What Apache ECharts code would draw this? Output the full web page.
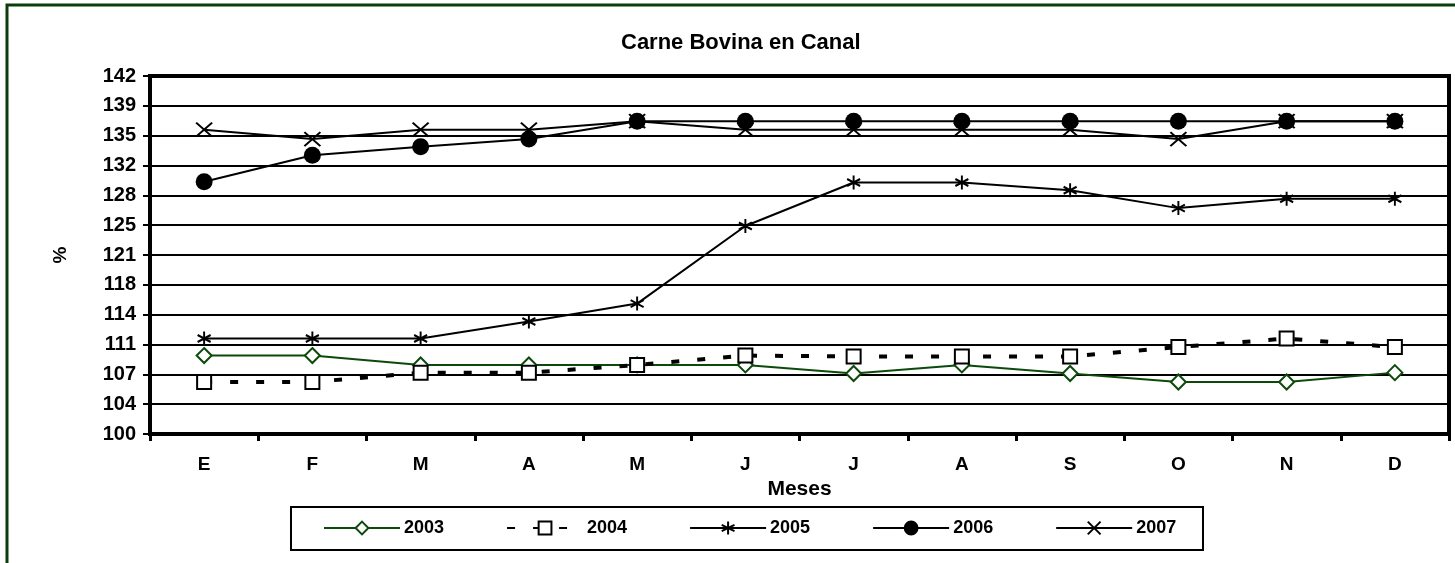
<!DOCTYPE html>
<html>
<head>
<meta charset="utf-8">
<script src="https://cdn.jsdelivr.net/npm/echarts@6/dist/echarts.min.js"></script>
<style>
  html, body { margin: 0; padding: 0; background: #ffffff; }
  #chart { width: 1455px; height: 563px; }
</style>
</head>
<body>
<div id="chart"></div>
<script>
// ---- data ----
const months = ['E', 'F', 'M', 'A', 'M', 'J', 'J', 'A', 'S', 'O', 'N', 'D'];
const seriesNames = ['2003', '2004', '2005', '2006', '2007'];
const v2003 = [109.2, 109.2, 108.1, 108.1, 108.1, 108.1, 107.1, 108.1, 107.1, 106.1, 106.1, 107.2];
const v2004 = [106.1, 106.1, 107.2, 107.2, 108.1, 109.2, 109.1, 109.1, 109.1, 110.2, 111.2, 110.2];
const v2005 = [111.2, 111.2, 111.2, 113.2, 115.3, 124.4, 129.5, 129.5, 128.6, 126.5, 127.6, 127.6];
const v2006 = [129.6, 132.7, 133.7, 134.6, 136.7, 136.7, 136.7, 136.7, 136.7, 136.7, 136.7, 136.7];
const v2007 = [135.7, 134.6, 135.7, 135.7, 136.7, 135.7, 135.7, 135.7, 135.7, 134.6, 136.7, 136.7];
const yMin = 100, yMax = 142, yStep = 3.5;
const titleText = 'Carne Bovina en Canal';
const xName = 'Meses';
const yName = '%';

// ---- styling ----
const FONT = '"Liberation Sans", Arial, sans-serif';
const GREEN = '#0b4a0b';
const asterisk = 'path://M0,-1L0,1M-0.87,-0.5L0.87,0.5M-0.87,0.5L0.87,-0.5';
const cross = 'path://M-1,-1L1,1M-1,1L1,-1';

const chart = echarts.init(document.getElementById('chart'), null, { renderer: 'canvas' });

function lineSeries(name, data, opts) {
  return Object.assign({
    name: name,
    type: 'line',
    data: data,
    showAllSymbol: true,
    emphasis: { disabled: true },
    animation: false
  }, opts);
}

const option = {
  animation: false,
  backgroundColor: '#ffffff',
  textStyle: { fontFamily: FONT, color: '#000' },
  title: {
    text: titleText,
    left: 621,
    top: 32,
    padding: 0,
    textStyle: { fontFamily: FONT, fontWeight: 'bold', fontSize: 22, color: '#000' }
  },
  grid: {
    left: 150, right: 6, top: 76, bottom: 129,
    show: true, borderColor: '#000', borderWidth: 4, backgroundColor: 'transparent'
  },
  legend: {
    data: seriesNames,
    left: 323,
    top: 519,
    padding: 0,
    itemWidth: 76,
    itemHeight: 16,
    itemGap: 62,
    selectedMode: false,
    itemStyle: { borderWidth: 2 },
    textStyle: { fontFamily: FONT, fontWeight: 'bold', fontSize: 18, color: '#000', padding: [0, 0, 0, -1] }
  },
  xAxis: {
    type: 'category',
    data: months,
    boundaryGap: true,
    name: xName,
    nameLocation: 'middle',
    nameGap: 43,
    nameTextStyle: { fontFamily: FONT, fontWeight: 'bold', fontSize: 21, color: '#000', verticalAlign: 'top' },
    axisLine: { show: true, lineStyle: { color: '#000', width: 4 } },
    axisTick: { show: true, alignWithLabel: false, length: 7, lineStyle: { color: '#000', width: 3 } },
    axisLabel: { margin: 21, fontFamily: FONT, fontWeight: 'bold', fontSize: 19, color: '#000', interval: 0 },
    splitLine: { show: false }
  },
  yAxis: {
    type: 'value',
    min: yMin,
    max: yMax,
    interval: yStep,
    name: yName,
    nameLocation: 'middle',
    nameGap: 80,
    nameRotate: 90,
    nameTextStyle: { fontFamily: FONT, fontWeight: 'bold', fontSize: 19, color: '#000' },
    axisLine: { show: true, lineStyle: { color: '#000', width: 4 } },
    axisTick: { show: true, length: 7, lineStyle: { color: '#000', width: 2 } },
    axisLabel: {
      margin: 14,
      fontFamily: FONT, fontWeight: 'bold', fontSize: 20, color: '#000',
      formatter: function (v) { return String(Math.round(v)); }
    },
    splitLine: { show: true, lineStyle: { color: '#000', width: 2 } }
  },
  series: [
    lineSeries(seriesNames[0], v2003, {
      symbol: 'diamond', symbolSize: 15,
      lineStyle: { color: GREEN, width: 2 },
      itemStyle: { color: '#ffffff', borderColor: GREEN, borderWidth: 2 },
      z: 3
    }),
    lineSeries(seriesNames[1], v2004, {
      symbol: 'rect', symbolSize: 14,
      lineStyle: { color: '#000', width: 4, type: [8, 18] },
      itemStyle: { color: '#ffffff', borderColor: '#000', borderWidth: 2 },
      z: 4
    }),
    lineSeries(seriesNames[2], v2005, {
      symbol: asterisk, symbolSize: [13, 14],
      lineStyle: { color: '#000', width: 2 },
      itemStyle: { color: '#000', borderColor: '#000', borderWidth: 2 },
      z: 5
    }),
    lineSeries(seriesNames[3], v2006, {
      symbol: 'circle', symbolSize: 17,
      lineStyle: { color: '#000', width: 2 },
      itemStyle: { color: '#000', borderColor: '#000', borderWidth: 0 },
      z: 6
    }),
    lineSeries(seriesNames[4], v2007, {
      symbol: cross, symbolSize: [16, 14],
      lineStyle: { color: '#000', width: 2 },
      itemStyle: { color: '#000', borderColor: '#000', borderWidth: 2 },
      z: 7
    })
  ],
  graphic: [
    {
      type: 'rect', silent: true, z: -10,
      shape: { x: 7, y: 5, width: 1480, height: 620 },
      style: { fill: 'none', stroke: '#0b3d0b', lineWidth: 3 }
    },
    {
      type: 'rect', silent: true, z: -10,
      shape: { x: 291, y: 507, width: 912, height: 43 },
      style: { fill: 'none', stroke: '#000', lineWidth: 2 }
    }
  ]
};

chart.setOption(option);
</script>
</body>
</html>
